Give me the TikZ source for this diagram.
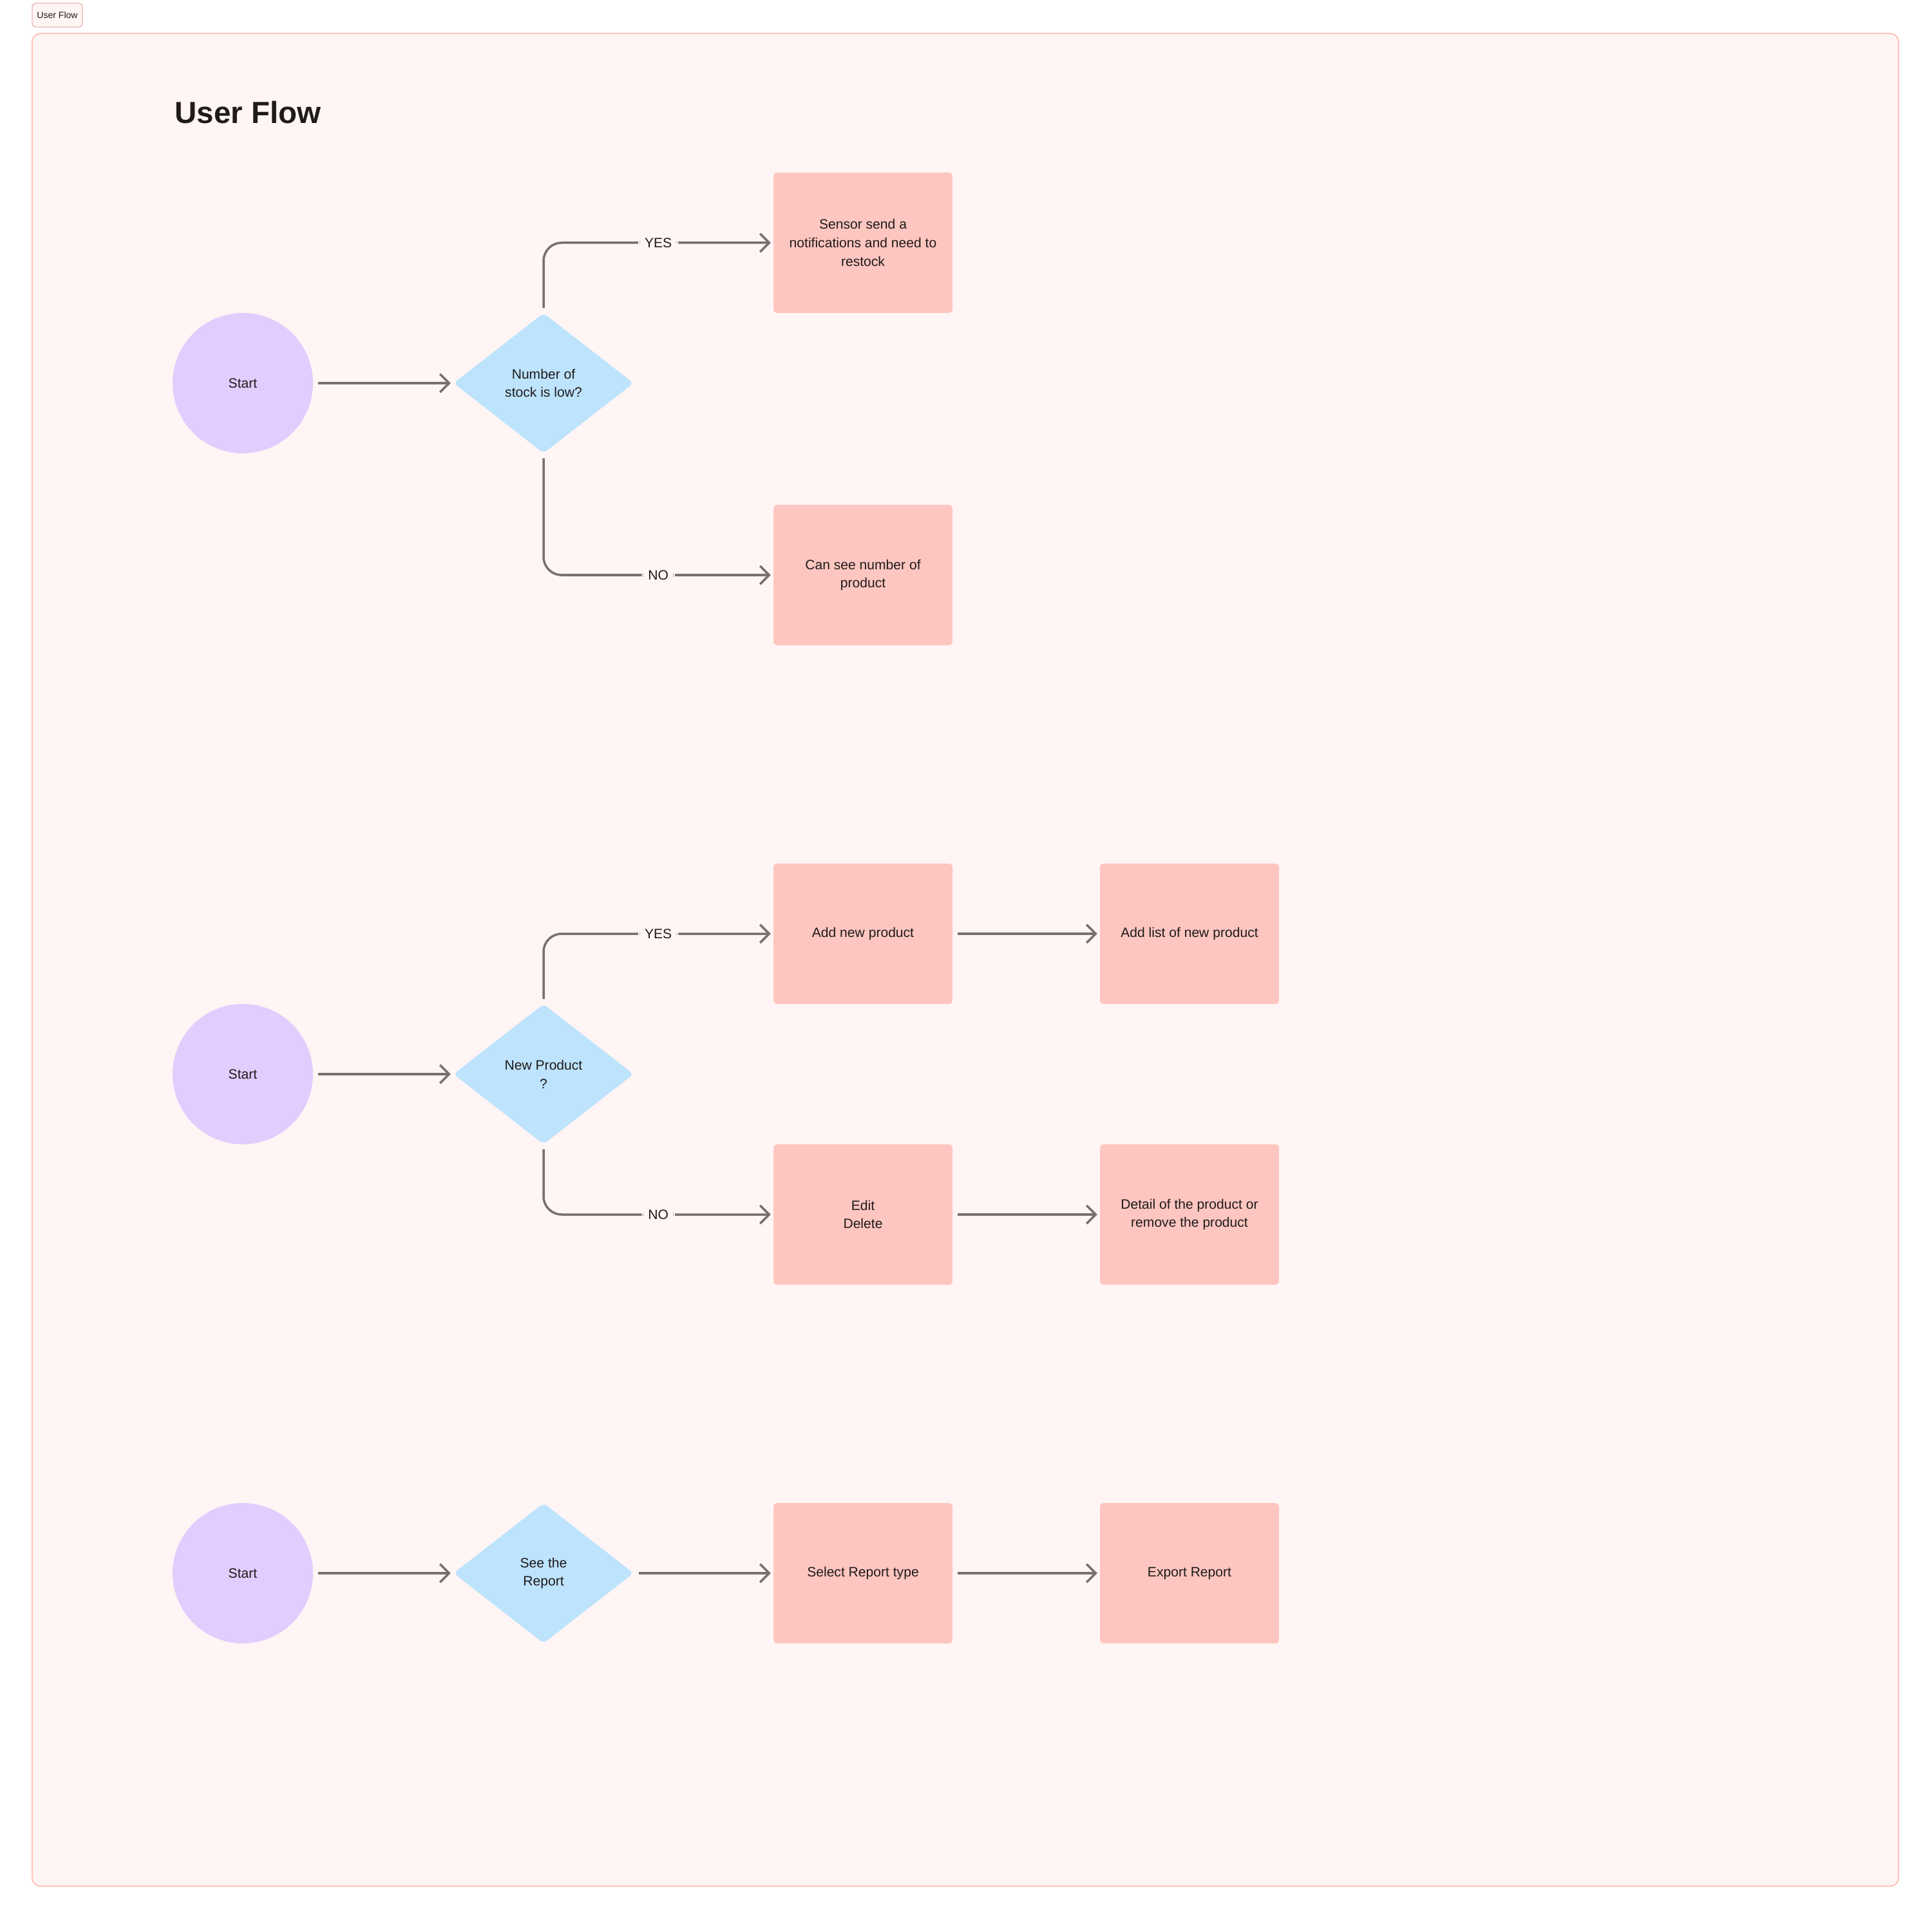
\documentclass[tikz,border=0pt]{standalone}
\usepackage{fontspec}
\setmainfont{Liberation Sans}
\usepackage{tikz}
\usetikzlibrary{shapes.geometric}
\usetikzlibrary{arrows.meta}
\definecolor{ink}{HTML}{1F1B1B}
\definecolor{wire}{HTML}{76706F}
\definecolor{sheet}{HTML}{FFF5F4}
\definecolor{sheetline}{HTML}{FFC6BE}
\definecolor{lilac}{HTML}{E3CCFE}
\definecolor{sky}{HTML}{BDE3FD}
\definecolor{salmon}{HTML}{FEC6C0}
\tikzset{start/.style={circle, fill=lilac, minimum size=2.18cm, inner sep=0pt, font=\fontsize{6}{8.2}\selectfont}}
\tikzset{decision/.style={diamond, fill=sky, minimum width=2.8cm, minimum height=2.18cm,
   inner sep=0pt, rounded corners=2pt, align=center, font=\fontsize{6}{8.2}\selectfont}}
\tikzset{stepbox/.style={rectangle, fill=salmon, rounded corners=1.5pt,
   minimum width=2.78cm, minimum height=2.18cm, align=center, font=\fontsize{6}{8.2}\selectfont}}
\tikzset{flow/.style={draw=wire, line width=1pt, rounded corners=8pt,
   -{Straight Barb[length=4pt, width=8pt]}, shorten <=2pt, shorten >=1pt}}
\tikzset{answer/.style={fill=sheet, inner sep=2.8pt, text=ink, font=\fontsize{6}{8.2}\selectfont}}

\begin{document}
\begin{tikzpicture}[text=ink]

    \useasboundingbox (0,0) rectangle (30,-29.8);

    \draw[fill=sheet, draw=sheetline, line width=0.6pt, rounded corners=3.7pt] (0.5,-0.52) rectangle (29.48,-29.29);
    \draw[fill=sheet, draw=sheetline!80!gray, line width=0.4pt, rounded corners=1.5pt] (0.5,-0.05) rectangle (1.28,-0.42);
    \node[font=\fontsize{4}{5}\selectfont] (tag) at (0.89,-0.235) {User Flow};

    \node[anchor=base west, inner sep=0pt, font=\fontsize{13.5}{16}\selectfont\bfseries] (title) at (2.71,-1.92) {User Flow};

    \node[start] (start1) at (3.77,-5.95) {Start};
    \node[decision] (dec1) at (8.44,-5.95) {Number of\\ stock is low?};
    \node[stepbox] (restock) at (13.40,-3.77) {Sensor send a\\ notifications and need to\\ restock};
    \node[stepbox] (count) at (13.40,-8.93) {Can see number of\\ product};

    \node[start] (start2) at (3.77,-16.68) {Start};
    \node[decision] (dec2) at (8.44,-16.68) {New Product\\ ?};
    \node[stepbox] (addnew) at (13.40,-14.50) {Add new product};
    \node[stepbox] (addlist) at (18.47,-14.50) {Add list of new product};
    \node[stepbox] (edit) at (13.40,-18.86) {Edit\\ Delete};
    \node[stepbox] (detail) at (18.47,-18.86) {Detail of the product or\\ remove the product};

    \node[start] (start3) at (3.77,-24.43) {Start};
    \node[decision] (dec3) at (8.44,-24.43) {See the\\ Report};
    \node[stepbox] (select) at (13.40,-24.43) {Select Report type};
    \node[stepbox] (export) at (18.47,-24.43) {Export Report};

    \draw[flow] (start1) -- (dec1);
    \draw[flow] (dec1.north) |- node[pos=0.75, answer] {YES} (restock.west);
    \draw[flow] (dec1.south) |- node[pos=0.75, answer] {NO} (count.west);

    \draw[flow] (start2) -- (dec2);
    \draw[flow] (dec2.north) |- node[pos=0.75, answer] {YES} (addnew.west);
    \draw[flow] (dec2.south) |- node[pos=0.75, answer] {NO} (edit.west);
    \draw[flow] (addnew) -- (addlist);
    \draw[flow] (edit) -- (detail);

    \draw[flow] (start3) -- (dec3);
    \draw[flow] (dec3) -- (select);
    \draw[flow] (select) -- (export);

  \end{tikzpicture}
\end{document}
